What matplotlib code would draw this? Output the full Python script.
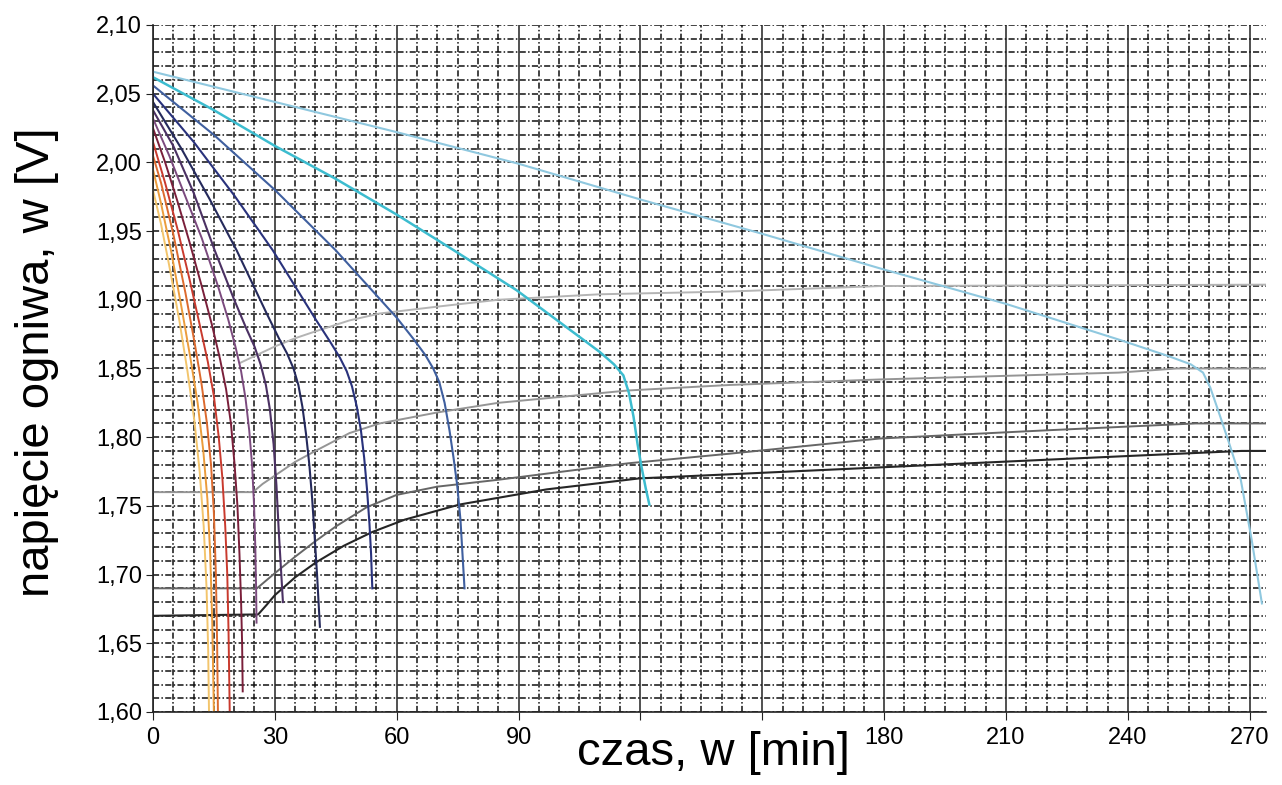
import matplotlib
matplotlib.use("Agg")
import matplotlib.pyplot as plt
import matplotlib.ticker as ticker

plt.rcParams['font.family'] = ['Liberation Sans', 'DejaVu Sans']

# krzywe rozładowania (czas [min], napięcie [V])
t_zolta = [0, 2, 4, 6.5, 8.5, 10.2, 11.5, 12.5, 13.2, 13.6, 13.8]
u_zolta = [1.980, 1.955, 1.925, 1.885, 1.848, 1.812, 1.775, 1.735, 1.690, 1.645, 1.600]

t_pomar = [0, 2, 4.5, 7, 9.2, 11, 12.4, 13.4, 14.1, 14.6, 15]
u_pomar = [1.995, 1.970, 1.935, 1.895, 1.858, 1.825, 1.790, 1.755, 1.715, 1.665, 1.600]

t_pomczer = [0, 2, 5, 8, 10.3, 12, 13.3, 14.3, 15, 15.5, 15.8, 16]
u_pomczer = [2.005, 1.985, 1.948, 1.905, 1.868, 1.838, 1.810, 1.780, 1.745, 1.700, 1.650, 1.600]

t_czer = [0, 3, 6, 9, 11.5, 13.5, 15, 16.2, 17.1, 17.8, 18.3, 18.6, 18.9]
u_czer = [2.015, 1.985, 1.952, 1.915, 1.882, 1.855, 1.830, 1.800, 1.770, 1.735, 1.700, 1.660, 1.600]

t_bordo = [0, 3, 6, 9, 12, 14.5, 16.5, 18, 19.2, 20.1, 20.8, 21.3, 21.7, 21.95, 22.1]
u_bordo = [2.025, 2.000, 1.972, 1.942, 1.910, 1.882, 1.857, 1.835, 1.810, 1.780, 1.750, 1.715, 1.680, 1.650, 1.615]

t_sliw = [0, 4, 8, 12, 16, 18.5, 20.3, 21.7, 22.8, 23.7, 24.4, 24.9, 25.2, 25.4, 25.5]
u_sliw = [2.032, 2.005, 1.975, 1.945, 1.910, 1.886, 1.866, 1.848, 1.828, 1.805, 1.780, 1.750, 1.720, 1.690, 1.665]

t_fiol = [0, 5, 10, 15.2, 20, 23, 25, 26.5, 27.8, 28.8, 29.7, 30.4, 31, 31.5, 32]
u_fiol = [2.038, 2.012, 1.978, 1.936, 1.900, 1.879, 1.866, 1.853, 1.838, 1.820, 1.795, 1.765, 1.730, 1.705, 1.680]

t_granat = [0, 7, 14, 20.6, 28, 31, 33, 34.6, 35.8, 36.8, 37.7, 38.5, 39.2, 39.8, 40.4, 41.1]
u_granat = [2.044, 2.010, 1.973, 1.936, 1.890, 1.872, 1.861, 1.850, 1.838, 1.822, 1.802, 1.780, 1.755, 1.728, 1.700, 1.662]

t_ciemnonieb = [0, 10, 20, 29.5, 40, 43.5, 46, 47.7, 49, 50.2, 51.2, 52, 52.7, 53.3, 53.7, 54]
u_ciemnonieb = [2.050, 2.015, 1.976, 1.936, 1.886, 1.870, 1.858, 1.848, 1.837, 1.822, 1.805, 1.785, 1.762, 1.737, 1.715, 1.690]

t_nieb = [0, 15, 30, 45, 60, 64, 67, 69, 70.5, 71.8, 73, 74, 74.9, 75.7, 76.2, 76.7]
u_nieb = [2.056, 2.020, 1.980, 1.936, 1.887, 1.872, 1.860, 1.850, 1.840, 1.825, 1.805, 1.785, 1.765, 1.740, 1.715, 1.690]

t_turkus = [0, 15, 30, 45, 60, 73, 89.5, 105, 110, 113.5, 115.8, 117.2, 118.3, 119.3, 120.3, 121.3, 122.2]
u_turkus = [2.062, 2.038, 2.012, 1.988, 1.962, 1.938, 1.907, 1.873, 1.862, 1.853, 1.845, 1.832, 1.815, 1.795, 1.778, 1.763, 1.751]

t_jasnonieb = [0, 30, 60, 90, 120, 150, 178.8, 210, 237.8, 250, 255.5, 258.5, 260.3, 262.4, 265, 267.8, 270.5, 273]
u_jasnonieb = [2.066, 2.044, 2.022, 1.999, 1.973, 1.948, 1.923, 1.897, 1.871, 1.859, 1.853, 1.847, 1.836, 1.818, 1.795, 1.769, 1.725, 1.679]

# linie napięcia końcowego
t_kon_a = [21.4, 25, 30, 35, 40, 48.4, 55.8, 70, 85, 110, 142, 179, 274]
u_kon_a = [1.854, 1.859, 1.866, 1.872, 1.877, 1.885, 1.890, 1.895, 1.900, 1.904, 1.906, 1.910, 1.911]

t_kon_b = [0, 24.6, 27, 30, 35, 40, 48.4, 55.8, 70, 85, 117, 142, 178.8, 237.8, 252, 274]
u_kon_b = [1.760, 1.760, 1.766, 1.772, 1.782, 1.790, 1.803, 1.810, 1.818, 1.825, 1.834, 1.838, 1.842, 1.847, 1.850, 1.850]

t_kon_c = [0, 25.6, 28, 30, 35, 39.4, 45, 52.6, 60, 70, 85, 117, 142, 178.8, 220, 256.7, 274]
u_kon_c = [1.690, 1.690, 1.696, 1.701, 1.713, 1.723, 1.735, 1.749, 1.758, 1.764, 1.769, 1.781, 1.788, 1.799, 1.805, 1.810, 1.810]

t_kon_d = [0, 25.9, 28, 30, 35, 40.2, 47, 54, 62, 75.5, 96.9, 119.7, 142, 178.8, 237.8, 268, 274]
u_kon_d = [1.670, 1.671, 1.678, 1.685, 1.698, 1.709, 1.721, 1.731, 1.740, 1.751, 1.762, 1.770, 1.773, 1.778, 1.786, 1.790, 1.790]

x_ticks = [0, 30, 60, 90, 120, 150, 180, 210, 240, 270]
x_labels = ['0', '30', '60', '90', '', '', '180', '210', '240', '270']
y_ticks = [1.60, 1.65, 1.70, 1.75, 1.80, 1.85, 1.90, 1.95, 2.00, 2.05, 2.10]

fig = plt.figure(figsize=(12.82, 7.85), dpi=100)
ax = fig.add_axes([0.1193, 0.0930, 0.8682, 0.8752])

ax.set_xlim(0, 274)
ax.set_ylim(1.60, 2.10)

ax.set_xticks(x_ticks)
ax.set_xticklabels(x_labels)
ax.set_yticks(y_ticks)
ax.set_yticklabels([('%.2f' % v).replace('.', ',') for v in y_ticks])
ax.xaxis.set_minor_locator(ticker.MultipleLocator(5))
ax.yaxis.set_minor_locator(ticker.MultipleLocator(0.01))

siatka = dict(color='#111111', lw=1.1, linestyle=(0, (4, 1.5, 1, 1.5)))
ax.grid(which='both', axis='y', **siatka)
ax.grid(which='minor', axis='x', **siatka)
ax.grid(which='major', axis='x', color='#222222', lw=1.1, linestyle='-')
ax.set_axisbelow(True)

ax.tick_params(axis='both', which='major', direction='out', labelsize=17, color='#222222')
ax.tick_params(axis='x', which='major', length=6, pad=5)
ax.tick_params(axis='y', which='major', length=5, pad=3)
ax.tick_params(which='minor', length=0)

for s in ['top', 'right']:
    ax.spines[s].set_visible(False)
for s in ['left', 'bottom']:
    ax.spines[s].set_color('#222222')
    ax.spines[s].set_linewidth(1.2)

ax.plot(t_kon_a, u_kon_a, color='#b4b4b4', lw=1.4)
ax.plot(t_kon_b, u_kon_b, color='#959595', lw=1.4)
ax.plot(t_kon_c, u_kon_c, color='#666666', lw=1.4)
ax.plot(t_kon_d, u_kon_d, color='#262626', lw=1.5)

ax.plot(t_jasnonieb, u_jasnonieb, color='#8fc8df', lw=1.5)
ax.plot(t_turkus, u_turkus, color='#3cbccf', lw=1.8)
ax.plot(t_nieb, u_nieb, color='#3f5f9f', lw=1.5)
ax.plot(t_ciemnonieb, u_ciemnonieb, color='#29327c', lw=1.5)
ax.plot(t_granat, u_granat, color='#252a5c', lw=1.5)
ax.plot(t_fiol, u_fiol, color='#4b3163', lw=1.5)
ax.plot(t_sliw, u_sliw, color='#7b4a7e', lw=1.4)
ax.plot(t_bordo, u_bordo, color='#7a1f3a', lw=1.4)
ax.plot(t_czer, u_czer, color='#c93a2e', lw=1.4)
ax.plot(t_pomczer, u_pomczer, color='#dc6a2e', lw=1.4)
ax.plot(t_pomar, u_pomar, color='#eb9c3c', lw=1.4)
ax.plot(t_zolta, u_zolta, color='#f3c56c', lw=1.4)

ax.set_xlabel('czas, w [min]', fontsize=34)
ax.xaxis.set_label_coords(0.504, -0.028)
ax.set_ylabel('napięcie ogniwa, w [V]', fontsize=34)
ax.yaxis.set_label_coords(-0.084, 0.509)

fig.savefig('out.png', dpi=100)
